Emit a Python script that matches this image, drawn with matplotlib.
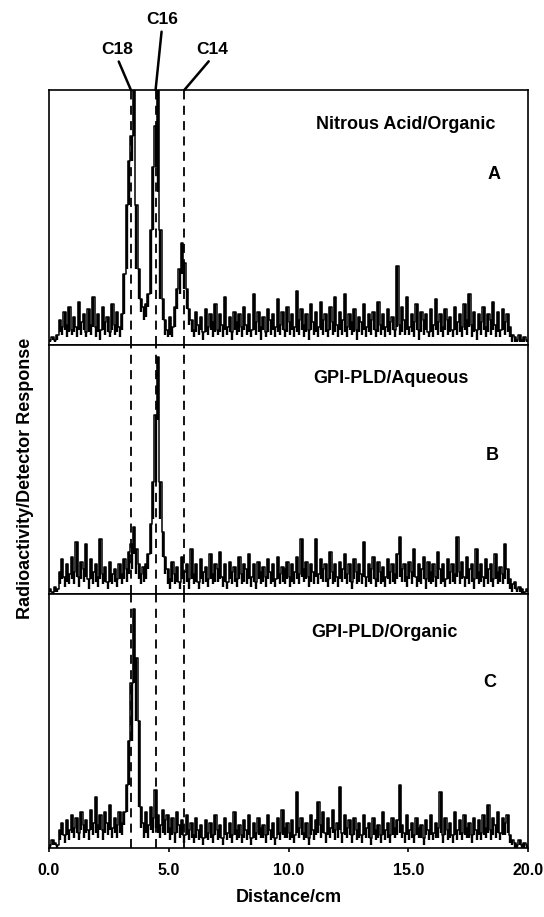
import numpy as np
import matplotlib.pyplot as plt

plt.rcParams['font.family'] = ['Liberation Sans', 'DejaVu Sans']
plt.rcParams['font.weight'] = 'bold'

# Radioactivity scans (fraction of panel height), one reading every 0.1 cm
# *_hi = top of the trace in each 0.1 cm slice, *_lo = bottom of the trace
nitrous_hi = [
    0.02, 0.03, 0.02, 0.04, 0.10, 0.07, 0.13, 0.08, 0.15, 0.06,
    0.11, 0.07, 0.17, 0.09, 0.12, 0.05, 0.14, 0.08, 0.19, 0.07,
    0.12, 0.06, 0.15, 0.09, 0.11, 0.05, 0.16, 0.08, 0.13, 0.07,
    0.12, 0.28, 0.55, 0.72, 0.82, 1.05, 0.55, 0.30, 0.18, 0.15,
    0.16, 0.20, 0.45, 0.70, 0.86, 1.05, 0.45, 0.18, 0.10, 0.06,
    0.11, 0.07, 0.15, 0.22, 0.30, 0.40, 0.32, 0.22, 0.14, 0.10,
    0.06, 0.13, 0.08, 0.11, 0.05, 0.14, 0.07, 0.12, 0.09, 0.16,
    0.06, 0.12, 0.08, 0.19, 0.07, 0.11, 0.05, 0.13, 0.09, 0.12,
    0.07, 0.15, 0.08, 0.12, 0.06, 0.20, 0.09, 0.13, 0.07, 0.11,
    0.05, 0.14, 0.10, 0.12, 0.07, 0.18, 0.08, 0.13, 0.06, 0.15,
    0.09, 0.12, 0.07, 0.21, 0.10, 0.14, 0.08, 0.12, 0.06, 0.16,
    0.09, 0.13, 0.07, 0.17, 0.10, 0.12, 0.06, 0.15, 0.09, 0.19,
    0.08, 0.13, 0.10, 0.20, 0.07, 0.12, 0.09, 0.14, 0.06, 0.11,
    0.09, 0.16, 0.07, 0.12, 0.10, 0.13, 0.06, 0.17, 0.08, 0.12,
    0.07, 0.14, 0.09, 0.11, 0.06, 0.31, 0.08, 0.15, 0.10, 0.19,
    0.07, 0.12, 0.09, 0.16, 0.06, 0.13, 0.10, 0.12, 0.05, 0.14,
    0.08, 0.18, 0.09, 0.12, 0.07, 0.14, 0.10, 0.11, 0.06, 0.15,
    0.09, 0.12, 0.07, 0.16, 0.10, 0.20, 0.08, 0.13, 0.06, 0.12,
    0.09, 0.15, 0.07, 0.12, 0.10, 0.17, 0.08, 0.13, 0.06, 0.14,
    0.09, 0.12, 0.07, 0.04, 0.03, 0.02, 0.04, 0.02, 0.03, 0.02,
]
nitrous_lo = [
    0.01, 0.02, 0.01, 0.02, 0.05, 0.04, 0.06, 0.03, 0.05, 0.04,
    0.05, 0.03, 0.06, 0.04, 0.06, 0.03, 0.05, 0.04, 0.07, 0.03,
    0.05, 0.02, 0.06, 0.04, 0.05, 0.03, 0.06, 0.04, 0.05, 0.03,
    0.06, 0.12, 0.30, 0.55, 0.72, 0.82, 0.30, 0.18, 0.13, 0.10,
    0.11, 0.15, 0.20, 0.45, 0.70, 0.60, 0.18, 0.10, 0.04, 0.03,
    0.04, 0.03, 0.07, 0.14, 0.20, 0.28, 0.22, 0.14, 0.08, 0.05,
    0.03, 0.05, 0.04, 0.06, 0.02, 0.05, 0.04, 0.06, 0.03, 0.05,
    0.04, 0.05, 0.03, 0.06, 0.04, 0.05, 0.02, 0.06, 0.04, 0.05,
    0.03, 0.06, 0.04, 0.05, 0.03, 0.06, 0.04, 0.05, 0.02, 0.06,
    0.03, 0.05, 0.04, 0.06, 0.03, 0.05, 0.04, 0.06, 0.03, 0.05,
    0.04, 0.06, 0.03, 0.05, 0.04, 0.06, 0.03, 0.05, 0.02, 0.06,
    0.04, 0.05, 0.03, 0.06, 0.04, 0.05, 0.03, 0.06, 0.04, 0.05,
    0.03, 0.06, 0.04, 0.05, 0.03, 0.06, 0.04, 0.05, 0.02, 0.05,
    0.04, 0.06, 0.03, 0.05, 0.04, 0.06, 0.03, 0.05, 0.04, 0.06,
    0.03, 0.05, 0.04, 0.06, 0.03, 0.07, 0.04, 0.05, 0.04, 0.06,
    0.04, 0.05, 0.03, 0.06, 0.02, 0.05, 0.04, 0.06, 0.03, 0.05,
    0.03, 0.06, 0.04, 0.05, 0.03, 0.06, 0.04, 0.05, 0.03, 0.06,
    0.04, 0.05, 0.03, 0.06, 0.04, 0.07, 0.03, 0.05, 0.02, 0.06,
    0.04, 0.06, 0.03, 0.05, 0.04, 0.06, 0.03, 0.05, 0.03, 0.06,
    0.04, 0.05, 0.03, 0.01, 0.01, 0.01, 0.01, 0.01, 0.01, 0.01,
]

aqueous_hi = [
    0.02, 0.01, 0.03, 0.02, 0.09, 0.14, 0.07, 0.12, 0.08, 0.15,
    0.09, 0.21, 0.07, 0.13, 0.10, 0.20, 0.06, 0.14, 0.09, 0.12,
    0.07, 0.22, 0.08, 0.11, 0.05, 0.13, 0.08, 0.10, 0.06, 0.12,
    0.08, 0.14, 0.10, 0.17, 0.20, 0.27, 0.18, 0.12, 0.08, 0.11,
    0.12, 0.16, 0.28, 0.45, 0.72, 0.95, 0.45, 0.25, 0.15, 0.10,
    0.06, 0.13, 0.08, 0.11, 0.05, 0.15, 0.09, 0.12, 0.06, 0.18,
    0.08, 0.12, 0.05, 0.14, 0.09, 0.11, 0.06, 0.16, 0.08, 0.12,
    0.10, 0.17, 0.07, 0.12, 0.05, 0.13, 0.09, 0.11, 0.06, 0.15,
    0.08, 0.12, 0.10, 0.16, 0.07, 0.12, 0.05, 0.13, 0.09, 0.11,
    0.07, 0.14, 0.09, 0.12, 0.06, 0.15, 0.08, 0.11, 0.10, 0.13,
    0.07, 0.12, 0.09, 0.15, 0.08, 0.22, 0.10, 0.13, 0.07, 0.12,
    0.09, 0.22, 0.08, 0.14, 0.10, 0.12, 0.06, 0.17, 0.09, 0.12,
    0.07, 0.13, 0.10, 0.16, 0.08, 0.12, 0.05, 0.14, 0.09, 0.12,
    0.08, 0.21, 0.07, 0.12, 0.10, 0.15, 0.06, 0.13, 0.09, 0.11,
    0.07, 0.14, 0.09, 0.12, 0.08, 0.16, 0.23, 0.10, 0.12, 0.07,
    0.13, 0.09, 0.18, 0.07, 0.12, 0.10, 0.15, 0.06, 0.13, 0.09,
    0.12, 0.07, 0.17, 0.10, 0.12, 0.06, 0.14, 0.09, 0.12, 0.08,
    0.23, 0.09, 0.13, 0.07, 0.15, 0.10, 0.12, 0.06, 0.18, 0.09,
    0.12, 0.07, 0.14, 0.10, 0.12, 0.06, 0.16, 0.09, 0.11, 0.08,
    0.20, 0.10, 0.06, 0.04, 0.05, 0.02, 0.03, 0.02, 0.01, 0.02,
]
aqueous_lo = [
    0.01, 0.00, 0.01, 0.01, 0.04, 0.06, 0.03, 0.05, 0.04, 0.06,
    0.04, 0.07, 0.03, 0.06, 0.05, 0.07, 0.02, 0.06, 0.04, 0.05,
    0.03, 0.06, 0.04, 0.05, 0.02, 0.05, 0.04, 0.05, 0.03, 0.06,
    0.04, 0.06, 0.05, 0.08, 0.10, 0.16, 0.08, 0.06, 0.04, 0.05,
    0.06, 0.10, 0.16, 0.30, 0.45, 0.70, 0.30, 0.15, 0.08, 0.04,
    0.02, 0.05, 0.04, 0.05, 0.02, 0.06, 0.04, 0.05, 0.02, 0.06,
    0.04, 0.05, 0.02, 0.06, 0.04, 0.05, 0.03, 0.06, 0.04, 0.05,
    0.05, 0.06, 0.03, 0.05, 0.02, 0.06, 0.04, 0.05, 0.03, 0.06,
    0.04, 0.05, 0.04, 0.06, 0.03, 0.05, 0.02, 0.06, 0.04, 0.05,
    0.03, 0.06, 0.04, 0.05, 0.03, 0.06, 0.04, 0.05, 0.04, 0.06,
    0.03, 0.05, 0.04, 0.06, 0.04, 0.07, 0.05, 0.06, 0.03, 0.05,
    0.04, 0.07, 0.04, 0.06, 0.05, 0.05, 0.03, 0.06, 0.04, 0.05,
    0.03, 0.06, 0.05, 0.06, 0.04, 0.05, 0.02, 0.06, 0.04, 0.05,
    0.04, 0.07, 0.03, 0.05, 0.04, 0.06, 0.03, 0.05, 0.04, 0.05,
    0.03, 0.06, 0.04, 0.05, 0.04, 0.06, 0.07, 0.05, 0.05, 0.03,
    0.06, 0.04, 0.07, 0.03, 0.05, 0.04, 0.06, 0.02, 0.05, 0.04,
    0.05, 0.03, 0.06, 0.04, 0.05, 0.03, 0.06, 0.04, 0.05, 0.04,
    0.07, 0.04, 0.06, 0.03, 0.06, 0.04, 0.05, 0.02, 0.06, 0.04,
    0.05, 0.03, 0.06, 0.04, 0.05, 0.03, 0.06, 0.04, 0.05, 0.04,
    0.06, 0.04, 0.02, 0.01, 0.02, 0.01, 0.01, 0.00, 0.00, 0.01,
]

organic_hi = [
    0.01, 0.03, 0.02, 0.01, 0.07, 0.10, 0.05, 0.11, 0.07, 0.13,
    0.08, 0.12, 0.06, 0.14, 0.09, 0.11, 0.07, 0.15, 0.10, 0.20,
    0.09, 0.13, 0.07, 0.14, 0.10, 0.17, 0.08, 0.12, 0.09, 0.14,
    0.10, 0.14, 0.25, 0.42, 0.65, 0.94, 0.75, 0.50, 0.16, 0.10,
    0.14, 0.09, 0.16, 0.12, 0.23, 0.13, 0.09, 0.15, 0.11, 0.13,
    0.08, 0.12, 0.06, 0.14, 0.09, 0.11, 0.05, 0.13, 0.07, 0.10,
    0.05, 0.12, 0.07, 0.09, 0.04, 0.11, 0.06, 0.10, 0.05, 0.13,
    0.07, 0.09, 0.04, 0.12, 0.06, 0.10, 0.05, 0.14, 0.07, 0.09,
    0.05, 0.11, 0.07, 0.13, 0.04, 0.10, 0.06, 0.12, 0.08, 0.09,
    0.05, 0.13, 0.07, 0.10, 0.04, 0.12, 0.06, 0.15, 0.08, 0.10,
    0.06, 0.11, 0.05, 0.22, 0.08, 0.12, 0.06, 0.10, 0.04, 0.13,
    0.07, 0.11, 0.18, 0.09, 0.14, 0.06, 0.12, 0.08, 0.15, 0.07,
    0.10, 0.24, 0.06, 0.13, 0.08, 0.11, 0.05, 0.12, 0.07, 0.10,
    0.05, 0.13, 0.08, 0.10, 0.04, 0.12, 0.07, 0.09, 0.05, 0.14,
    0.07, 0.10, 0.05, 0.12, 0.08, 0.11, 0.25, 0.09, 0.06, 0.13,
    0.07, 0.10, 0.05, 0.12, 0.08, 0.09, 0.04, 0.11, 0.07, 0.13,
    0.06, 0.10, 0.08, 0.22, 0.05, 0.12, 0.07, 0.10, 0.05, 0.14,
    0.07, 0.11, 0.06, 0.13, 0.08, 0.10, 0.05, 0.12, 0.07, 0.11,
    0.06, 0.13, 0.08, 0.17, 0.07, 0.12, 0.09, 0.14, 0.06, 0.12,
    0.10, 0.13, 0.05, 0.03, 0.02, 0.01, 0.03, 0.01, 0.02, 0.01,
]
organic_lo = [
    0.00, 0.01, 0.01, 0.00, 0.03, 0.05, 0.02, 0.05, 0.03, 0.06,
    0.04, 0.06, 0.03, 0.07, 0.04, 0.06, 0.03, 0.07, 0.05, 0.06,
    0.04, 0.07, 0.03, 0.06, 0.05, 0.07, 0.04, 0.06, 0.04, 0.06,
    0.05, 0.09, 0.14, 0.25, 0.42, 0.65, 0.50, 0.16, 0.08, 0.04,
    0.06, 0.04, 0.07, 0.06, 0.08, 0.06, 0.04, 0.06, 0.05, 0.06,
    0.03, 0.05, 0.02, 0.06, 0.04, 0.05, 0.02, 0.05, 0.03, 0.04,
    0.02, 0.04, 0.03, 0.04, 0.01, 0.04, 0.03, 0.04, 0.02, 0.05,
    0.03, 0.04, 0.01, 0.05, 0.03, 0.04, 0.02, 0.05, 0.03, 0.04,
    0.02, 0.04, 0.03, 0.05, 0.01, 0.04, 0.03, 0.05, 0.04, 0.04,
    0.02, 0.05, 0.03, 0.04, 0.01, 0.05, 0.03, 0.05, 0.04, 0.04,
    0.03, 0.04, 0.02, 0.06, 0.04, 0.05, 0.03, 0.04, 0.01, 0.05,
    0.03, 0.05, 0.06, 0.04, 0.06, 0.02, 0.05, 0.04, 0.06, 0.03,
    0.04, 0.07, 0.02, 0.05, 0.04, 0.05, 0.02, 0.05, 0.03, 0.04,
    0.02, 0.05, 0.04, 0.04, 0.01, 0.05, 0.03, 0.04, 0.02, 0.05,
    0.03, 0.04, 0.02, 0.05, 0.04, 0.05, 0.06, 0.04, 0.02, 0.05,
    0.03, 0.04, 0.02, 0.05, 0.04, 0.04, 0.01, 0.05, 0.03, 0.05,
    0.03, 0.04, 0.04, 0.06, 0.02, 0.05, 0.03, 0.04, 0.02, 0.05,
    0.03, 0.05, 0.03, 0.05, 0.04, 0.04, 0.02, 0.05, 0.03, 0.05,
    0.03, 0.05, 0.04, 0.06, 0.03, 0.05, 0.04, 0.06, 0.03, 0.05,
    0.05, 0.06, 0.02, 0.01, 0.00, 0.00, 0.01, 0.00, 0.00, 0.00,
]

panel_titles = ['Nitrous Acid/Organic', 'GPI-PLD/Aqueous', 'GPI-PLD/Organic']
panel_letters = ['A', 'B', 'C']
standards = ['C18', 'C16', 'C14']
standard_pos = [3.42, 4.45, 5.65]   # cm
x_ticks = [0.0, 5.0, 10.0, 15.0, 20.0]

dist = np.linspace(0.05, 19.95, len(nitrous_hi))
traces = [(nitrous_lo, nitrous_hi), (aqueous_lo, aqueous_hi),
          (organic_lo, organic_hi)]

W, H = 544, 917
fig = plt.figure(figsize=(W / 100, H / 100), dpi=100)

left, right = 49 / W, 528 / W
# panel boxes in pixels from top: (top, bottom)
boxes = [(90, 345), (345, 594), (594, 848)]
title_pos = [(0.745, 0.863), (0.714, 0.867), (0.70, 0.85)]
letter_pos = [(0.93, 0.667), (0.925, 0.558), (0.92, 0.65)]

axes = []
for i, (t, b) in enumerate(boxes):
    ax = fig.add_axes([left, (H - b) / H, right - left, (b - t) / H])
    lo, hi = traces[i]
    ax.vlines(dist, lo, hi, color='black', lw=1.7)
    ax.plot(dist, hi, color='black', lw=1.1, drawstyle='steps-mid')
    for p in standard_pos:
        ax.axvline(p, color='black', lw=1.3, ls=(0, (5, 3.5)))
    ax.set_xlim(0, 20)
    ax.set_ylim(0, 1)
    ax.set_yticks([])
    for s in ax.spines.values():
        s.set_linewidth(1.2)
    ax.text(*title_pos[i], panel_titles[i], transform=ax.transAxes,
            ha='center', va='center', fontsize=13, fontweight='bold')
    ax.text(*letter_pos[i], panel_letters[i], transform=ax.transAxes,
            ha='center', va='center', fontsize=13, fontweight='bold')
    if i < 2:
        ax.set_xticks([])
    axes.append(ax)

ax_c = axes[-1]
ax_c.set_xticks(x_ticks)
ax_c.set_xticklabels([f'{v:.1f}' for v in x_ticks], fontsize=11.5, fontweight='bold')
ax_c.tick_params(axis='x', direction='out', length=3, width=1.2, pad=8)
ax_c.set_xlabel('Distance/cm', fontsize=13, fontweight='bold', labelpad=8)

fig.text(26 / W, 1 - 478 / H, 'Radioactivity/Detector Response', rotation=90,
         ha='center', va='center', fontsize=13, fontweight='bold')

# standard labels above the top panel
ax_a = axes[0]
label_xy = [(117, 50), (162, 20), (212, 50)]
for name, p, (lx, ly) in zip(standards, standard_pos, label_xy):
    ax_a.annotate(name, xy=(p, 1.0), xycoords=('data', 'axes fraction'),
                  xytext=(lx, H - ly), textcoords='figure pixels',
                  ha='center', va='center', fontsize=12.5, fontweight='bold',
                  arrowprops=dict(arrowstyle='-', lw=1.8, color='black',
                                  shrinkA=1, shrinkB=0, relpos=(0.5, 0.0)))

fig.savefig('out.png', dpi=100)
